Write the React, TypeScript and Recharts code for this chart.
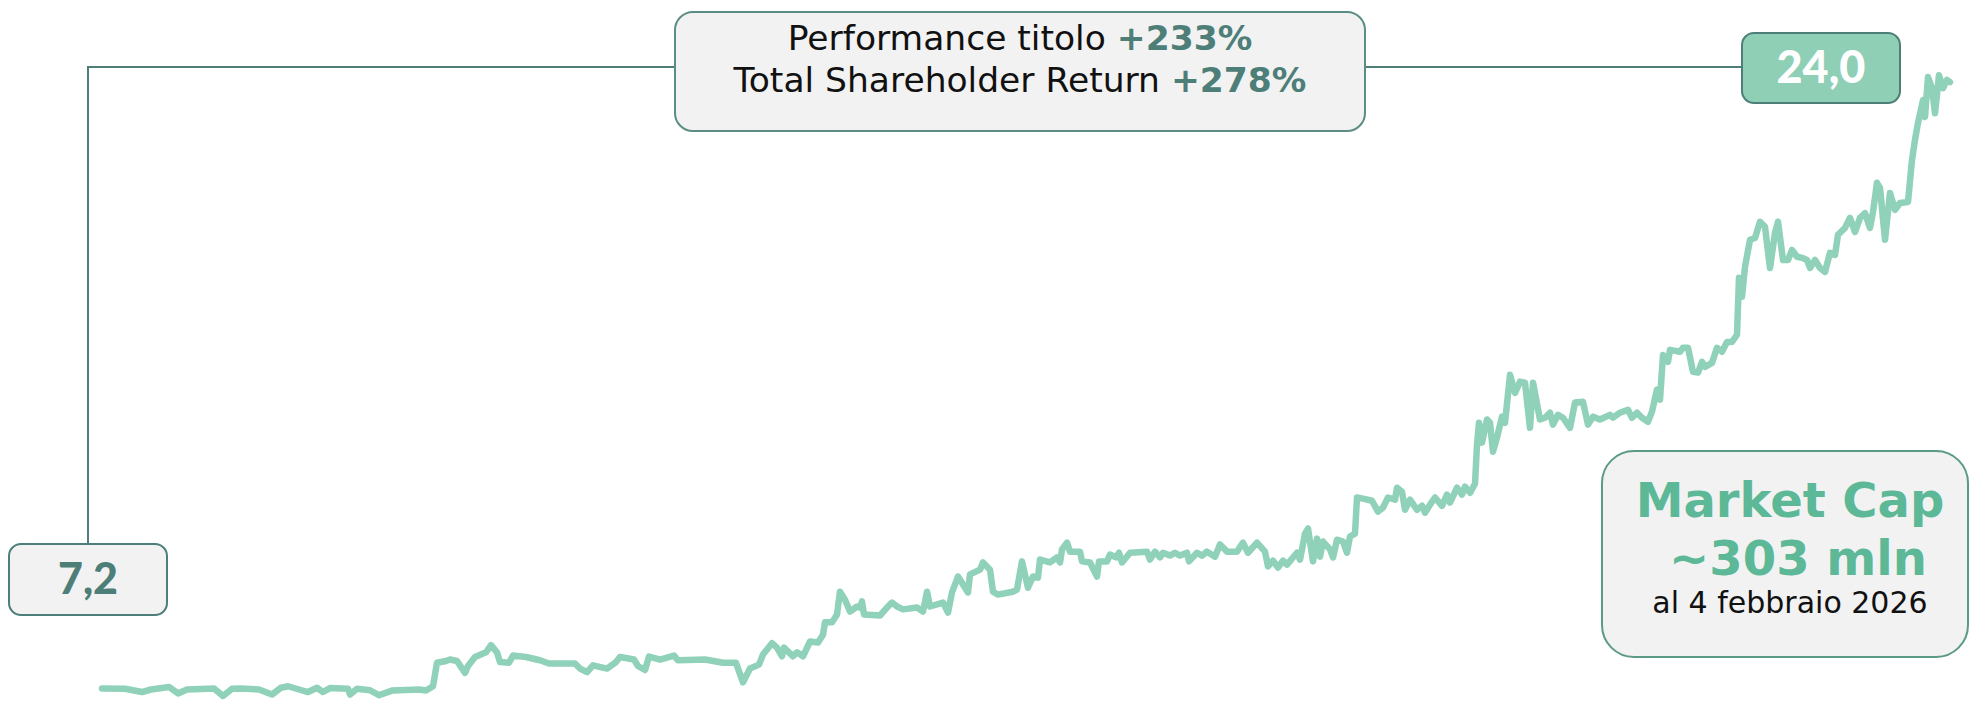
import { LineChart, Line, XAxis, YAxis } from 'recharts';

// trading sessions since start (index) and closing price in euro
const baseYear: [number, number][] = [
  [0, 7.2], [23, 7.19], [40, 7.1], [49, 7.17], [67, 7.24], [76, 7.06], [85, 7.17], [112, 7.2],
  [121, 6.99], [130, 7.19], [139, 7.2], [157, 7.17], [170, 7.03], [179, 7.22], [186, 7.26],
  [197, 7.17], [206, 7.1], [215, 7.22], [221, 7.1], [228, 7.21], [246, 7.19], [248, 7.03],
  [255, 7.19], [268, 7.15], [277, 7.01], [290, 7.14], [317, 7.17], [324, 7.14], [331, 7.26],
];

const firstStep: [number, number][] = [
  [335, 7.91], [344, 7.96], [348, 8.0], [355, 7.96], [363, 7.63], [366, 7.82], [373, 8.07],
  [384, 8.2], [389, 8.4], [395, 8.2], [398, 7.93], [407, 7.91], [411, 8.11], [424, 8.07],
  [438, 7.98], [447, 7.89], [473, 7.89], [478, 7.75], [485, 7.65], [491, 7.84], [505, 7.75],
  [514, 7.93], [518, 8.07], [532, 8.0], [536, 7.82], [543, 7.71], [547, 8.08], [558, 8.0],
  [572, 8.11], [576, 7.98], [603, 8.0], [621, 7.91], [634, 7.91], [641, 7.37], [648, 7.75],
  [657, 7.86],
];

const climb: [number, number][] = [
  [661, 8.14], [670, 8.45], [675, 8.33], [680, 8.09], [682, 8.33], [691, 8.09], [695, 8.2],
  [701, 8.09], [708, 8.5], [716, 8.47], [721, 8.69], [723, 9.03], [730, 9.03], [735, 9.25],
  [738, 9.88], [743, 9.66], [748, 9.33], [755, 9.47], [758, 9.44], [760, 9.61], [762, 9.25],
  [778, 9.22], [785, 9.44], [790, 9.58], [795, 9.47], [801, 9.39], [815, 9.44], [821, 9.33],
  [825, 9.88], [828, 9.47], [841, 9.58], [846, 9.3], [850, 9.86], [856, 10.3], [866, 9.86],
  [868, 10.36], [878, 10.49], [881, 10.69], [888, 10.49], [891, 9.88], [896, 9.8], [911, 9.88],
  [915, 9.94], [920, 10.72], [926, 9.99], [931, 10.3], [936, 10.27], [938, 10.77], [948, 10.69],
  [955, 10.83], [958, 10.69], [960, 11.05], [965, 11.24], [968, 10.99], [978, 10.99], [980, 10.72],
  [988, 10.69], [995, 10.3], [997, 10.72], [1005, 10.72], [1008, 10.91], [1014, 10.83],
  [1017, 10.96], [1020, 10.69], [1028, 10.96], [1045, 10.99],
];

const plateau: [number, number][] = [
  [1048, 10.77], [1053, 10.99], [1058, 10.83], [1061, 10.96], [1068, 10.88], [1073, 10.96],
  [1078, 10.88], [1085, 10.96], [1087, 10.72], [1095, 10.96], [1100, 10.88], [1105, 10.99],
  [1113, 10.85], [1118, 11.19], [1125, 10.99], [1135, 10.99], [1141, 11.24], [1146, 10.96],
  [1155, 11.24], [1163, 10.99], [1166, 10.58], [1171, 10.74], [1176, 10.55], [1181, 10.74],
  [1185, 10.63], [1195, 10.96], [1198, 10.77], [1203, 11.49], [1206, 11.63], [1211, 10.72],
  [1215, 11.35], [1218, 10.85], [1221, 11.27], [1228, 11.05], [1231, 10.83], [1235, 11.32],
  [1241, 11.27], [1245, 10.96], [1248, 11.41], [1253, 11.49],
];

const breakout: [number, number][] = [
  [1255, 12.49], [1261, 12.46], [1270, 12.4], [1276, 12.1], [1281, 12.21], [1286, 12.49],
  [1293, 12.43], [1295, 12.76], [1300, 12.65], [1303, 12.15], [1308, 12.43], [1315, 12.15],
  [1320, 12.26], [1323, 12.07], [1328, 12.29], [1333, 12.49], [1340, 12.26], [1345, 12.57],
  [1348, 12.35], [1355, 12.76], [1360, 12.57], [1363, 12.79], [1368, 12.62], [1373, 12.87],
  [1375, 13.95], [1377, 14.56], [1380, 14.01], [1385, 14.65], [1388, 14.56], [1391, 13.76],
  [1395, 14.15], [1400, 14.73], [1403, 14.56], [1408, 15.89], [1413, 15.39], [1418, 15.7],
  [1423, 15.67], [1428, 14.42], [1431, 15.67], [1438, 14.65], [1443, 14.7], [1448, 14.84],
  [1451, 14.51], [1456, 14.78], [1461, 14.7], [1468, 14.42], [1473, 15.12], [1481, 15.14],
  [1486, 14.51], [1491, 14.73], [1498, 14.65], [1508, 14.78], [1511, 14.7], [1518, 14.84],
  [1526, 14.92], [1530, 14.7], [1535, 14.84], [1540, 14.7], [1546, 14.59], [1550, 14.87],
  [1555, 15.48], [1558, 15.2], [1561, 16.44], [1566, 16.25], [1568, 16.58], [1578, 16.53],
  [1581, 16.64], [1586, 16.64], [1591, 15.97], [1596, 15.95], [1600, 16.25], [1603, 16.11],
  [1610, 16.22], [1615, 16.64], [1620, 16.53], [1625, 16.8], [1630, 16.8], [1635, 17.0],
];

const rally: [number, number][] = [
  [1637, 18.58], [1640, 18.05], [1643, 18.88], [1648, 19.63], [1653, 19.68], [1658, 20.13],
  [1663, 19.99], [1668, 18.85], [1673, 19.82], [1676, 20.13], [1681, 19.07], [1686, 19.07],
  [1690, 19.35], [1695, 19.16], [1700, 19.13], [1705, 19.07], [1708, 18.85], [1713, 19.07],
  [1718, 18.85], [1723, 18.74], [1728, 19.27], [1733, 19.21], [1736, 19.77], [1743, 19.96],
  [1748, 20.24], [1753, 19.85], [1758, 20.24], [1763, 20.37], [1768, 19.96], [1771, 20.4],
  [1775, 21.21], [1778, 21.07], [1783, 19.63], [1788, 20.93], [1793, 20.46], [1798, 20.65],
  [1806, 20.68], [1810, 21.84], [1813, 22.4], [1816, 22.87], [1821, 23.5], [1823, 23.03],
  [1826, 24.14], [1830, 23.83], [1833, 23.14], [1837, 24.19], [1841, 23.83], [1845, 24.06],
  [1848, 24.0],
];

const startLabel = '7,2';
const endLabel = '24,0';
const stockPerf = '+233%';
const tsr = '+278%';
const marketCap = '~303 mln';
const capDate = 'al 4 febbraio 2026';

const W = 1970;
const H = 714;
const teal = '#4e7e78';
const mint = '#8fd1b9';
const green = '#5cb896';
const box = '#f2f2f2';

export default function App() {
  const data = [...baseYear, ...firstStep, ...climb, ...plateau, ...breakout, ...rally].map(
    ([session, price]) => ({ session, price })
  );

  return (
    <div style={{ position: 'relative', width: W, height: H, background: '#fff' }}>
      <style>{'body{margin:0}'}</style>
      <LineChart width={W} height={H} data={data} margin={{ top: 46, right: 20, bottom: 18, left: 102 }}>
        <XAxis dataKey="session" type="number" domain={[0, 1848]} hide />
        <YAxis domain={[7, 25]} hide />
        <Line
          type="linear"
          dataKey="price"
          stroke={mint}
          strokeWidth={6.5}
          strokeLinejoin="round"
          strokeLinecap="round"
          dot={false}
          isAnimationActive={false}
        />
      </LineChart>

      <svg
        width={W}
        height={H}
        style={{ position: 'absolute', left: 0, top: 0, pointerEvents: 'none' }}
        fontFamily='"DejaVu Sans", sans-serif'
      >
        <polyline points="88,544 88,67 1742,67" fill="none" stroke={teal} strokeWidth={2} />

        {/* start value */}
        <rect x={9} y={544} width={158} height={71} rx={12} fill={box} stroke={teal} strokeWidth={2} />
        <text x={88} y={594} textAnchor="middle" fill={teal} fontSize={43} fontWeight={900} fontFamily="Lato, sans-serif">
          {startLabel}
        </text>

        {/* performance */}
        <rect x={675} y={12} width={690} height={119} rx={18} fill={box} stroke="#5b8d84" strokeWidth={2} />
        <text x={1020} y={50} textAnchor="middle" fontSize={34.5} fill="#111">
          Performance titolo{' '}
          <tspan fontWeight={700} fill={teal}>{stockPerf}</tspan>
        </text>
        <text x={1020} y={92} textAnchor="middle" fontSize={34.5} fill="#111">
          Total Shareholder Return{' '}
          <tspan fontWeight={700} fill={teal}>{tsr}</tspan>
        </text>

        {/* end value */}
        <rect x={1742} y={33} width={158} height={70} rx={12} fill="#8ecfb6" stroke={teal} strokeWidth={2} />
        <text x={1821} y={83} textAnchor="middle" fill="#fff" fontSize={45} fontWeight={900} fontFamily="Lato, sans-serif">
          {endLabel}
        </text>

        {/* market cap */}
        <rect x={1602} y={451} width={366} height={206} rx={32} fill={box} stroke="#5b9a85" strokeWidth={2} />
        <text x={1790} y={517} textAnchor="middle" fill={green} fontSize={48} fontWeight={700}>
          Market Cap
        </text>
        <text x={1798} y={575} textAnchor="middle" fill={green} fontSize={48} fontWeight={700}>
          {marketCap}
        </text>
        <text x={1790} y={613} textAnchor="middle" fill="#111" fontSize={30}>
          {capDate}
        </text>
      </svg>
    </div>
  );
}
